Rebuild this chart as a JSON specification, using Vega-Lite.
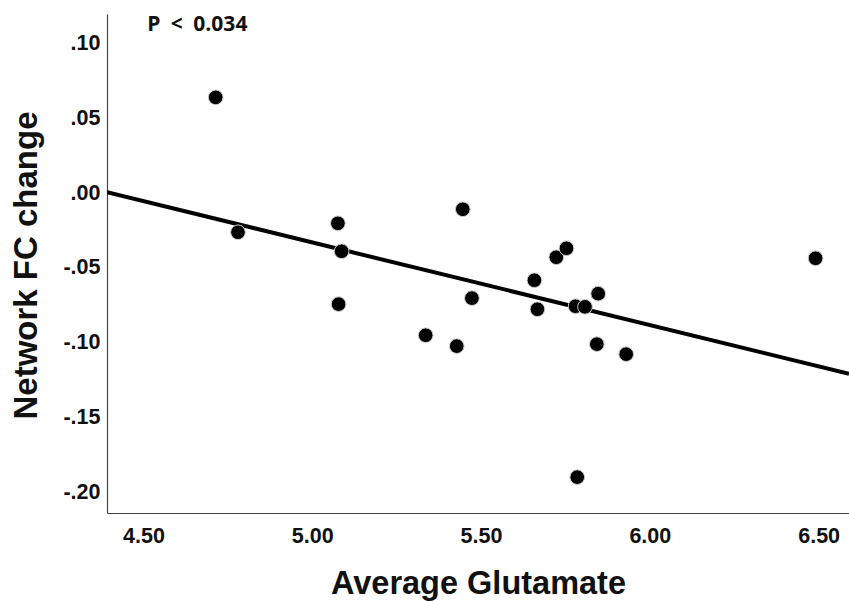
{
  "$schema": "https://vega.github.io/schema/vega-lite/v6.json",
  "width": 742,
  "height": 499,
  "autosize": {"type": "none"},
  "padding": {"left": 107, "top": 14, "right": 0, "bottom": 88},
  "background": "white",
  "config": {
    "view": {"stroke": null},
    "axis": {
      "grid": false,
      "ticks": false,
      "tickSize": 0,
      "domainColor": "#444",
      "domainWidth": 1.2,
      "labelFont": "Liberation Sans",
      "labelFontWeight": "bold",
      "labelFontSize": 21.5,
      "labelColor": "#111",
      "titleFont": "Liberation Sans",
      "titleFontWeight": "bold",
      "titleFontSize": 33,
      "titleColor": "#111"
    }
  },
  "data": {
    "values": [
      {"glu": 4.714, "fc": 0.0642},
      {"glu": 4.780, "fc": -0.0261},
      {"glu": 5.076, "fc": -0.0201},
      {"glu": 5.087, "fc": -0.0388},
      {"glu": 5.078, "fc": -0.0742},
      {"glu": 5.336, "fc": -0.0950},
      {"glu": 5.428, "fc": -0.1023},
      {"glu": 5.446, "fc": -0.0107},
      {"glu": 5.473, "fc": -0.0702},
      {"glu": 5.658, "fc": -0.0582},
      {"glu": 5.667, "fc": -0.0776},
      {"glu": 5.723, "fc": -0.0428},
      {"glu": 5.753, "fc": -0.0368},
      {"glu": 5.780, "fc": -0.0756},
      {"glu": 5.808, "fc": -0.0760},
      {"glu": 5.847, "fc": -0.0672},
      {"glu": 5.843, "fc": -0.1010},
      {"glu": 5.930, "fc": -0.1077},
      {"glu": 5.785, "fc": -0.1900},
      {"glu": 6.491, "fc": -0.0435}
    ]
  },
  "layer": [
    {
      "transform": [{"regression": "fc", "on": "glu", "extent": [4.392, 6.59]}],
      "mark": {"type": "line", "color": "black", "strokeWidth": 4, "clip": true},
      "encoding": {
        "x": {"field": "glu", "type": "quantitative", "scale": {"domain": [4.392, 6.59], "nice": false, "zero": false}},
        "y": {"field": "fc", "type": "quantitative", "scale": {"domain": [-0.214, 0.12], "nice": false, "zero": false}}
      }
    },
    {
      "mark": {"type": "circle", "size": 215, "fill": "black", "opacity": 1, "stroke": "#cccccc", "strokeWidth": 1},
      "encoding": {
        "x": {
          "field": "glu", "type": "quantitative",
          "scale": {"domain": [4.392, 6.59], "nice": false, "zero": false},
          "axis": {
            "title": "Average Glutamate",
            "values": [4.5, 5, 5.5, 6, 6.5],
            "format": ".2f",
            "labelPadding": 12,
            "titleX": 371,
            "titleY": 80,
            "titleFontSize": 32.5,
            "titleAlign": "center",
            "titleBaseline": "alphabetic"
          }
        },
        "y": {
          "field": "fc", "type": "quantitative",
          "scale": {"domain": [-0.214, 0.12], "nice": false, "zero": false},
          "axis": {
            "title": "Network FC change",
            "values": [-0.2, -0.15, -0.1, -0.05, 0, 0.05, 0.1],
            "labelExpr": "replace(replace(format(datum.value, '.2f'), '\u2212', '-'), '0.', '.')",
            "labelPadding": 7,
            "titleX": -71,
            "titleY": 251,
            "titleAngle": -90,
            "titleAlign": "center",
            "titleBaseline": "alphabetic"
          }
        }
      }
    },
    {
      "data": {"values": [{"glu": 4.511, "fc": 0.1084, "label": "P\u2002<\u20020.034"}]},
      "mark": {"type": "text", "font": "Open Sans", "fontWeight": "bold", "fontSize": 21, "align": "left", "baseline": "alphabetic", "color": "#111"},
      "encoding": {
        "x": {"field": "glu", "type": "quantitative"},
        "y": {"field": "fc", "type": "quantitative"},
        "text": {"field": "label"}
      }
    }
  ]
}
